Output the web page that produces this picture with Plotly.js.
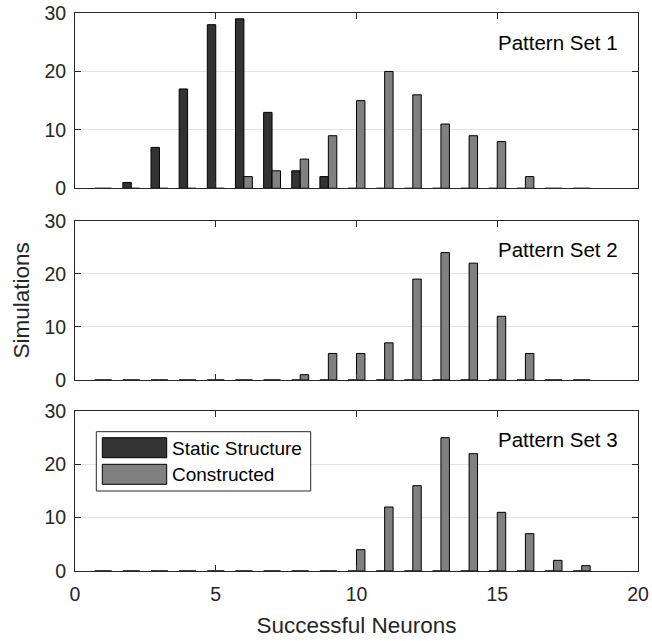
<!DOCTYPE html>
<html>
<head>
<meta charset="utf-8">
<script src="https://cdn.plot.ly/plotly-3.0.1.min.js"></script>
<style>
  html, body { margin: 0; padding: 0; background: #ffffff; }
  #chart { width: 652px; height: 641px; }
</style>
</head>
<body>
<div id="chart"></div>
<script>
// Number of successful neurons (x categories)
const neurons = [1, 2, 3, 4, 5, 6, 7, 8, 9, 10, 11, 12, 13, 14, 15, 16, 17, 18];

// Pattern Set 1
const staticSet1      = [0, 1, 7, 17, 28, 29, 13, 3, 2, 0, 0, 0, 0, 0, 0, 0, 0, 0];
const constructedSet1 = [0, 0, 0, 0, 0, 2, 3, 5, 9, 15, 20, 16, 11, 9, 8, 2, 0, 0];

// Pattern Set 2
const staticSet2      = [0, 0, 0, 0, 0, 0, 0, 0, 0, 0, 0, 0, 0, 0, 0, 0, 0, 0];
const constructedSet2 = [0, 0, 0, 0, 0, 0, 0, 1, 5, 5, 7, 19, 24, 22, 12, 5, 0, 0];

// Pattern Set 3
const staticSet3      = [0, 0, 0, 0, 0, 0, 0, 0, 0, 0, 0, 0, 0, 0, 0, 0, 0, 0];
const constructedSet3 = [0, 0, 0, 0, 0, 0, 0, 0, 0, 4, 12, 16, 25, 22, 11, 7, 2, 1];

const panelTitles = ['Pattern Set 1', 'Pattern Set 2', 'Pattern Set 3'];
const seriesNames = ['Static Structure', 'Constructed'];
const xTicks = [0, 5, 10, 15, 20];
const yTicks = [0, 10, 20, 30];

const FONT = '"Liberation Sans", Arial, Helvetica, sans-serif';
const INK = '#262626';
const DARK = '#333333';
const GRAY = '#808080';

// page geometry helpers (pixel -> paper fraction)
const W = 652, H = 641;
const M = { l: 75, r: 14, t: 13, b: 70 };
const PW = W - M.l - M.r, PH = H - M.t - M.b;
const px = v => (v - M.l) / PW;
const py = v => (H - M.b - v) / PH;

const staticSets = [staticSet1, staticSet2, staticSet3];
const constructedSets = [constructedSet1, constructedSet2, constructedSet3];

const traces = [];
for (let i = 0; i < 3; i++) {
  const sfx = i === 0 ? '' : String(i + 1);
  traces.push({
    type: 'bar', name: seriesNames[0], x: neurons, y: staticSets[i],
    xaxis: 'x' + sfx, yaxis: 'y' + sfx,
    width: 0.3, offset: -0.3,
    marker: { color: DARK, line: { color: '#000000', width: 1 } },
    showlegend: false, hoverinfo: 'x+y+name'
  });
  traces.push({
    type: 'bar', name: seriesNames[1], x: neurons, y: constructedSets[i],
    xaxis: 'x' + sfx, yaxis: 'y' + sfx,
    width: 0.3, offset: 0,
    marker: { color: GRAY, line: { color: '#000000', width: 1 } },
    showlegend: false, hoverinfo: 'x+y+name'
  });
}

// panel vertical extents in pixels [top, bottom]
const panels = [[12.7, 188.3], [220.7, 380], [411, 571]];

function xAxis(i) {
  const ax = {
    range: [0, 20], tickvals: xTicks, ticktext: xTicks.map(String),
    ticks: 'inside', ticklen: 6, tickwidth: 1, tickcolor: INK,
    showline: true, linecolor: INK, linewidth: 1, mirror: 'ticks',
    showgrid: false, zeroline: false, fixedrange: true,
    tickfont: { family: FONT, size: 19.5, color: INK },
    anchor: i === 0 ? 'y' : 'y' + (i + 1),
    domain: [0, 1],
    showticklabels: i === 2,
    ticklabelstandoff: 6
  };
  if (i > 0) ax.matches = 'x';
  if (i === 2) {
    ax.title = { text: 'Successful Neurons', font: { family: FONT, size: 22.5, color: INK }, standoff: 12 };
  }
  return ax;
}
function yAxis(i) {
  const ax = {
    range: [0, 30], tickvals: yTicks, ticktext: yTicks.map(String),
    ticks: 'inside', ticklen: 6, tickwidth: 1, tickcolor: INK,
    showline: true, linecolor: INK, linewidth: 1, mirror: 'ticks',
    showgrid: true, gridcolor: '#e3e3e3', gridwidth: 1, zeroline: false, fixedrange: true,
    tickfont: { family: FONT, size: 19.5, color: INK },
    anchor: i === 0 ? 'x' : 'x' + (i + 1),
    domain: [py(panels[i][1]), py(panels[i][0])],
    ticklabelstandoff: 4
  };
  if (i === 1) {
    ax.title = { text: 'Simulations', font: { family: FONT, size: 22.5, color: INK }, standoff: 8 };
  }
  return ax;
}

const annotations = panelTitles.map((t, i) => ({
  text: t, xref: 'paper', yref: 'paper',
  x: px(620), y: py([43, 249.5, 439][i]),
  xanchor: 'right', yanchor: 'middle', showarrow: false,
  font: { family: FONT, size: 20.5, color: '#000000' }
}));

// legend drawn inside the lower panel
const legendShapes = [
  { type: 'rect', xref: 'paper', yref: 'paper', x0: px(96.3), x1: px(310.7), y0: py(491), y1: py(431.7),
    line: { color: INK, width: 1 }, fillcolor: '#ffffff', layer: 'above' },
  { type: 'rect', xref: 'paper', yref: 'paper', x0: px(102.3), x1: px(166.7), y0: py(457.7), y1: py(437.7),
    line: { color: '#000000', width: 1 }, fillcolor: DARK, layer: 'above' },
  { type: 'rect', xref: 'paper', yref: 'paper', x0: px(102.3), x1: px(166.7), y0: py(484.3), y1: py(464.3),
    line: { color: '#000000', width: 1 }, fillcolor: GRAY, layer: 'above' }
];
seriesNames.forEach((n, k) => {
  annotations.push({
    text: n, xref: 'paper', yref: 'paper',
    x: px(170), y: py([448.5, 475][k]),
    xanchor: 'left', yanchor: 'middle', showarrow: false,
    font: { family: FONT, size: 19, color: '#000000' }
  });
});

const layout = {
  width: W, height: H,
  margin: M,
  paper_bgcolor: '#ffffff', plot_bgcolor: '#ffffff',
  barmode: 'overlay',
  showlegend: false,
  font: { family: FONT, color: INK },
  xaxis: xAxis(0), xaxis2: xAxis(1), xaxis3: xAxis(2),
  yaxis: yAxis(0), yaxis2: yAxis(1), yaxis3: yAxis(2),
  shapes: legendShapes,
  annotations: annotations
};

Plotly.newPlot('chart', traces, layout, { staticPlot: true, displayModeBar: false });
</script>
</body>
</html>
